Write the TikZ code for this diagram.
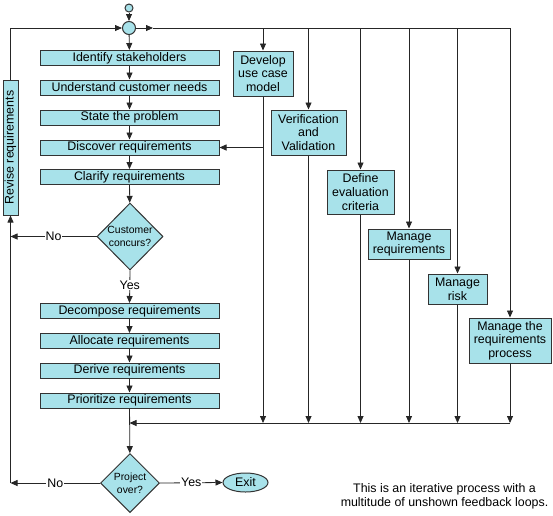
\documentclass[tikz,border=0pt]{standalone}
\usepackage{fontspec}
\setmainfont{Liberation Sans}
\usetikzlibrary{shapes.geometric,arrows.meta}
\definecolor{boxfill}{HTML}{A8E2EA}
\definecolor{edge}{HTML}{333333}
\begin{document}
\begin{tikzpicture}[x=1pt,y=-1pt,
  box/.style={draw=edge,line width=1pt,fill=boxfill,inner sep=0pt,
    font=\fontsize{12.4}{13.6}\selectfont,align=center},
  lbox/.style={box,minimum width=179pt,minimum height=15pt},
  dia/.style={diamond,draw=edge,line width=1pt,fill=boxfill,inner sep=0pt,
    font=\fontsize{10.4}{12.8}\selectfont,align=center},
  junc/.style={circle,draw=edge,line width=1pt,fill=boxfill,inner sep=0pt},
  ln/.style={draw=black!85,line width=0.8pt},
  arr/.style={-{Triangle[length=7pt,width=6pt]}},
  lab/.style={fill=white,inner sep=1pt,font=\fontsize{12.4}{14}\selectfont}
]
\useasboundingbox (0,0) rectangle (553,515);

% junctions
\node[junc,minimum size=8pt] (c0) at (129,8) {};
\node[junc,minimum size=13pt] (c1) at (129,28) {};

% left column
\node[lbox] (s1) at (129.5,58) {Identify stakeholders};
\node[lbox] (s2) at (129.5,87.5) {Understand customer needs};
\node[lbox] (s3) at (129.5,117.5) {State the problem};
\node[lbox] (s4) at (129.5,147.5) {Discover requirements};
\node[lbox] (s5) at (129.5,177) {Clarify requirements};
\node[dia,minimum width=66pt,minimum height=67pt] (d1) at (130,236.5) {Customer\\concurs?};
\node[lbox] (s6) at (129.5,311) {Decompose requirements};
\node[lbox] (s7) at (129.5,341) {Allocate requirements};
\node[lbox] (s8) at (129.5,370.5) {Derive requirements};
\node[lbox] (s9) at (129.5,400.5) {Prioritize requirements};
\node[dia,minimum width=59pt,minimum height=59pt] (d2) at (130,483) {Project\\over?};
\node[ellipse,draw=edge,line width=1pt,fill=boxfill,inner sep=0pt,
  minimum width=45pt,minimum height=19pt,font=\fontsize{12.4}{14}\selectfont] (ex) at (245.5,482.5) {Exit};

% revise
\node[box,minimum width=15pt,minimum height=135pt] (rev) at (10.5,147.5) {\rotatebox{90}{Revise requirements}};

% right boxes
\node[box,minimum width=60pt,minimum height=45pt] (r1) at (263,73.5) {Develop\\use case\\model};
\node[box,minimum width=75pt,minimum height=45pt] (r2) at (308.5,132.5) {Verification\\and\\Validation};
\node[box,minimum width=67pt,minimum height=44pt] (r3) at (360.5,192) {Define\\evaluation\\criteria};
\node[box,minimum width=82pt,minimum height=30pt] (r4) at (409,244) {Manage\\requirements};
\node[box,minimum width=59pt,minimum height=30pt] (r5) at (457.5,289) {Manage\\risk};
\node[box,minimum width=82pt,minimum height=45pt] (r6) at (510,340.5) {Manage the\\requirements\\process};

% note
\node[font=\fontsize{12.4}{14}\selectfont,align=center] (note) at (444.5,496) {This is an iterative process with a\\multitude of unshown feedback loops.};

\coordinate (t0) at (153,28);
\coordinate (bl) at (0,423);

% top connectors
\draw[ln,arr] (c0) -- (c1);
\draw[ln,arr] (rev.north) |- (c1.west);
\draw[ln,arr] (c1.east) -- (t0);
\draw[ln,arr] (t0) -| (r6.north);
\foreach \r in {r1,r2,r3,r4,r5}{
  \draw[ln,arr] (\r.north |- c1) -- (\r.north);
}

% left column connectors
\draw[ln,arr] (c1) -- (s1);
\draw[ln,arr] (s1) -- (s2);
\draw[ln,arr] (s2) -- (s3);
\draw[ln,arr] (s3) -- (s4);
\draw[ln,arr] (s4) -- (s5);
\draw[ln,arr] (s5) -- (d1);
\draw[ln,arr] (d1.south) -- node[lab,pos=0.45]{Yes} (s6.north);
\draw[ln,arr] (s6) -- (s7);
\draw[ln,arr] (s7) -- (s8);
\draw[ln,arr] (s8) -- (s9);
\draw[ln,arr] (s9) -- (d2);
\draw[ln,arr] (d2.east) -- node[lab]{Yes} (ex.west);

% feedback to discover
\draw[ln,arr] (r1.south |- s4.east) -- (s4.east);

% right verticals to bottom line
\foreach \r in {r1,r2,r3,r4,r5,r6}{
  \draw[ln,arr] (\r.south) -- (\r.south |- bl);
}
\draw[ln,arr] (r6.south |- bl) -- (s9.south |- bl);

% No branches
\draw[ln,arr] (d1.west) -- node[lab]{No} (rev.south |- d1.west);
\draw[ln,arr] (d2.west) -- node[lab]{No} (rev.south |- d2.west);
\draw[ln,arr] (rev.south |- d2.west) -- (rev.south);
\end{tikzpicture}
\end{document}
